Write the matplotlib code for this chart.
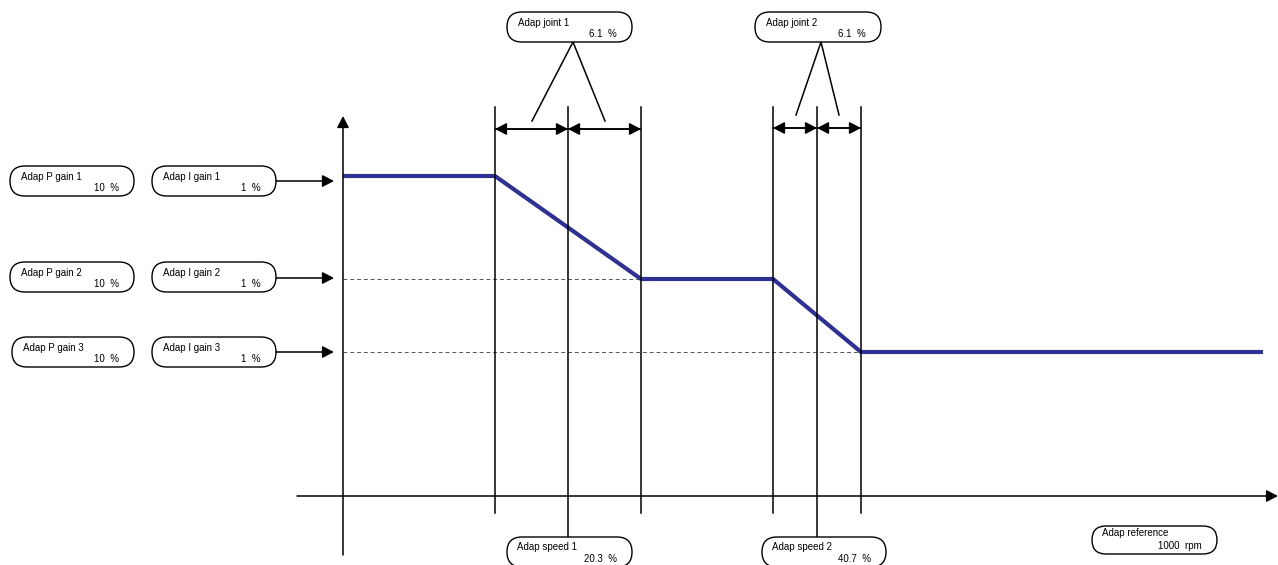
import matplotlib
matplotlib.use("Agg")
import matplotlib.pyplot as plt
from matplotlib.patches import FancyBboxPatch

plt.rcParams['font.family'] = ['Liberation Sans', 'DejaVu Sans']

# diagram coordinates (pixel-like units, y grows downward)
axis_x = 343
axis_y = 496
levels = [176, 279, 352]              # gain levels 1..3
p_gain = ['10', '10', '10']
i_gain = ['1', '1', '1']
speed_x = [568, 817]                  # adap speed 1, 2
speed_val = ['20.3', '40.7']
joint_half = [73, 44]                 # half width of joint band
joint_val = ['6.1', '6.1']
end_x = 1263
ref_val = '1000'

# curve points
curve_x = [axis_x, speed_x[0] - joint_half[0], speed_x[0] + joint_half[0],
           speed_x[1] - joint_half[1], speed_x[1] + joint_half[1], end_x]
curve_y = [levels[0], levels[0], levels[1], levels[1], levels[2], levels[2]]

fig = plt.figure(figsize=(12.78, 5.65), dpi=100)
ax = fig.add_axes([0, 0, 1, 1])
ax.set_xlim(0, 1278)
ax.set_ylim(565, 0)
ax.axis('off')

FS = 7
LW = 1.1


def arrow(x0, y0, x1, y1, style='-|>,head_length=0.5,head_width=0.26'):
    ax.annotate('', xy=(x1, y1), xytext=(x0, y0),
                arrowprops=dict(arrowstyle=style, color='k', lw=LW,
                                mutation_scale=14, shrinkA=0, shrinkB=0))


def box(x0, y0, w, h, title, value, tx=11, ty=6):
    ax.add_patch(FancyBboxPatch((x0, y0), w, h,
                                boxstyle=f"round,pad=0,rounding_size={h / 2}",
                                fc='white', ec='k', lw=1.0, zorder=3))
    ax.text(x0 + tx, y0 + ty, title, ha='left', va='top', fontsize=FS, zorder=4)
    ax.text(x0 + w - 15, y0 + h - 3, value, ha='right', va='bottom',
            fontsize=FS, zorder=4)


# axes
arrow(axis_x, 555, axis_x, 116)
arrow(297, axis_y, 1278, axis_y)

# dashed guides
ax.plot([axis_x, curve_x[2]], [levels[1], levels[1]], ls=(0, (4, 3)),
        color='#555555', lw=0.7)
ax.plot([axis_x, curve_x[4]], [levels[2], levels[2]], ls=(0, (4, 3)),
        color='#555555', lw=0.7)

# curve
ax.plot(curve_x, curve_y, color='#2e3192', lw=3.0, solid_capstyle='butt',
        zorder=2)

# speed bands
for k in range(2):
    xc = speed_x[k]
    xl = xc - joint_half[k]
    xr = xc + joint_half[k]
    ax.plot([xl, xl], [107, 513], color='k', lw=LW)
    ax.plot([xr, xr], [107, 513], color='k', lw=LW)
    ax.plot([xc, xc], [107, 537], color='k', lw=LW)
    ya = 129 if k == 0 else 128
    arrow(xc, ya, xl, ya)
    arrow(xl, ya, xc, ya)
    arrow(xc, ya, xr, ya)
    arrow(xr, ya, xc, ya)

# joint boxes with fan lines
jb = [(507, 125, 573, 532, 605, 121), (755, 126, 821, 796, 839, 115)]
for k, (bx, bw, ax0, lx, rx, ly) in enumerate(jb):
    ax.plot([lx, ax0, rx], [ly, 42, ly], color='k', lw=LW, zorder=2)
    box(bx, 12, bw, 30, f'Adap joint {k + 1}', f'{joint_val[k]}  %')

# speed boxes
box(507, 537, 125, 30, 'Adap speed 1', f'{speed_val[0]}  %', tx=10, ty=5)
box(762, 537, 124, 30, 'Adap speed 2', f'{speed_val[1]}  %', tx=10, ty=5)

# reference box
box(1092, 526, 125, 28, 'Adap reference', f'{ref_val}  rpm', tx=10, ty=2)

# gain boxes
arrow_y = [181, 278, 352]
box_y = [166, 262, 337]
for k in range(3):
    box(10 if k < 2 else 12, box_y[k], 124 if k < 2 else 122, 30,
        f'Adap P gain {k + 1}', f'{p_gain[k]}  %')
    box(152, box_y[k], 124, 30, f'Adap I gain {k + 1}', f'{i_gain[k]}  %')
    arrow(276, arrow_y[k], 334, arrow_y[k])

fig.savefig('out.png', dpi=100)
